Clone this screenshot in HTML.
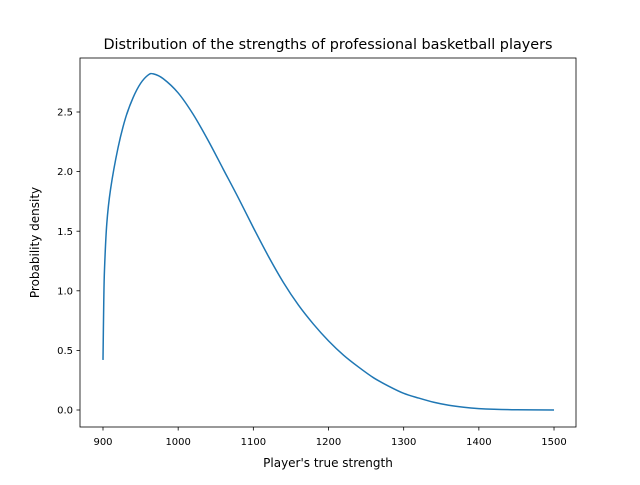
<!DOCTYPE html>
<html><head><meta charset="utf-8"><style>
body{margin:0;background:#fff;}
svg text{font-family:"DejaVu Sans","Liberation Sans",sans-serif;fill:#000;}
</style></head><body>
<svg width="640" height="480" viewBox="0 0 640 480">
<rect x="0" y="0" width="640" height="480" fill="#fff"/>
<g id="plot"></g>
<rect x="80" y="58" width="496" height="369" fill="none" stroke="#000" stroke-width="0.8"/>
<g id="xt"></g><g id="yt"></g>
<text x="328" y="49" font-size="14.4" text-anchor="middle">Distribution of the strengths of professional basketball players</text>
<text x="328" y="467" font-size="12" text-anchor="middle">Player's true strength</text>
<text transform="translate(39,242.5) rotate(-90)" font-size="12" text-anchor="middle">Probability density</text>
</svg>
<script>
const xs = [900, 901, 902, 905, 910, 920, 930, 940, 950, 960, 967, 980, 1000, 1020, 1040, 1060, 1080, 1100, 1120, 1140, 1160, 1180, 1200, 1220, 1240, 1260, 1280, 1300, 1320, 1340, 1360, 1380, 1400, 1420, 1450, 1500];
const ys = [0.42, 0.9, 1.18, 1.56, 1.85, 2.2, 2.45, 2.62, 2.74, 2.81, 2.82, 2.78, 2.66, 2.48, 2.26, 2.02, 1.78, 1.53, 1.29, 1.07, 0.88, 0.72, 0.58, 0.46, 0.36, 0.27, 0.2, 0.14, 0.1, 0.065, 0.04, 0.023, 0.012, 0.006, 0.002, 0];
const xTicks = [900, 1000, 1100, 1200, 1300, 1400, 1500];
const yTicks = [0.0, 0.5, 1.0, 1.5, 2.0, 2.5];
const X = v => 103 + (v - 900) * 0.7517;
const Y = v => 410 - v * 119.2;
const NS = "http://www.w3.org/2000/svg";
const pts = xs.map((x, i) => [X(x), Y(ys[i])]);
let d = "M" + pts[0][0] + "," + pts[0][1];
for (let i = 0; i < pts.length - 1; i++) {
  const p0 = pts[Math.max(0, i - 1)], p1 = pts[i], p2 = pts[i + 1], p3 = pts[Math.min(pts.length - 1, i + 2)];
  const c1 = [p1[0] + (p2[0] - p0[0]) / 6, p1[1] + (p2[1] - p0[1]) / 6];
  const c2 = [p2[0] - (p3[0] - p1[0]) / 6, p2[1] - (p3[1] - p1[1]) / 6];
  d += " C" + c1 + " " + c2 + " " + p2;
}
const path = document.createElementNS(NS, "path");
path.setAttribute("d", d);
path.setAttribute("fill", "none");
path.setAttribute("stroke", "#1f77b4");
path.setAttribute("stroke-width", "1.5");


document.getElementById("plot").appendChild(path);
const xt = document.getElementById("xt");
xTicks.forEach(t => {
  const l = document.createElementNS(NS, "line");
  l.setAttribute("x1", X(t)); l.setAttribute("x2", X(t));
  l.setAttribute("y1", 427); l.setAttribute("y2", 430.5);
  l.setAttribute("stroke", "#000"); l.setAttribute("stroke-width", "0.8");
  
  
  xt.appendChild(l);
  const tx = document.createElementNS(NS, "text");
  tx.setAttribute("x", X(t)); tx.setAttribute("y", 445);
  tx.setAttribute("font-size", "10"); tx.setAttribute("text-anchor", "middle");
  tx.textContent = t;
  
  
  xt.appendChild(tx);
});
const yt = document.getElementById("yt");
yTicks.forEach(t => {
  const l = document.createElementNS(NS, "line");
  l.setAttribute("x1", 76.5); l.setAttribute("x2", 80);
  l.setAttribute("y1", Y(t)); l.setAttribute("y2", Y(t));
  l.setAttribute("stroke", "#000"); l.setAttribute("stroke-width", "0.8");
  
  
  yt.appendChild(l);
  const tx = document.createElementNS(NS, "text");
  tx.setAttribute("x", 73); tx.setAttribute("y", Y(t) + 3.6);
  tx.setAttribute("font-size", "10"); tx.setAttribute("text-anchor", "end");
  tx.textContent = t.toFixed(1);
  
  
  yt.appendChild(tx);
});
</script>
</body></html>
